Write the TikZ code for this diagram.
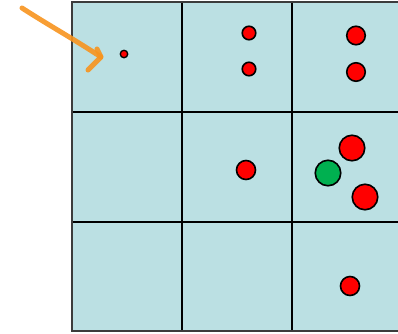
\documentclass[tikz,border=0pt]{standalone}
\begin{document}
\begin{tikzpicture}[x=1pt,y=-1pt,
  cellfill/.style={fill={rgb,255:red,187;green,224;blue,227}},
  gridline/.style={draw=black,line width=2pt},
  dot/.style={circle,draw=black,line width=1.6pt,inner sep=0pt,fill=red},
  gdot/.style={dot,fill={rgb,255:red,0;green,176;blue,80}},
  brush/.style={draw={rgb,255:red,247;green,148;blue,30},line width=5pt,line cap=round,line join=round,opacity=0.9}]
\useasboundingbox (0,0) rectangle (398,333);
\clip (0,0) rectangle (398,333);
% grid
\fill[cellfill] (72,2) rectangle (402,331);
\draw[gridline] (182,2) -- (182,331);
\draw[gridline] (292,2) -- (292,331);
\draw[gridline] (72,112) -- (402,112);
\draw[gridline] (72,222) -- (402,222);
\draw[line width=2.2pt,draw={rgb,255:red,60;green,60;blue,60}] (402,2) -- (72,2) -- (72,331) -- (402,331);
% dots
\node[dot,minimum size=7.5pt,line width=1.3pt] (a) at (124,54) {};
\node[dot,minimum size=13.5pt] (b1) at (249,33) {};
\node[dot,minimum size=13.5pt] (b2) at (249,69) {};
\node[dot,minimum size=18.5pt] (c1) at (356,35.5) {};
\node[dot,minimum size=18.5pt] (c2) at (356,72) {};
\node[dot,minimum size=19pt] (d) at (246,170) {};
\node[dot,minimum size=25.5pt] (e1) at (352,148) {};
\node[gdot,minimum size=25.5pt] (e2) at (328,173) {};
\node[dot,minimum size=25.5pt] (e3) at (365,197) {};
\node[dot,minimum size=19pt] (f) at (350,286) {};
% orange arrow
\coordinate (s) at (22,8);
\coordinate (m1) at (50,26);
\coordinate (m2) at (72,38);
\coordinate (t) at (101,57);
\coordinate (h1) at (97,49);
\coordinate (h2) at (88,70);
\draw[brush] (s) .. controls (m1) and (m2) .. (t);
\draw[brush] (h1) -- (t) -- (h2);
\end{tikzpicture}
\end{document}
